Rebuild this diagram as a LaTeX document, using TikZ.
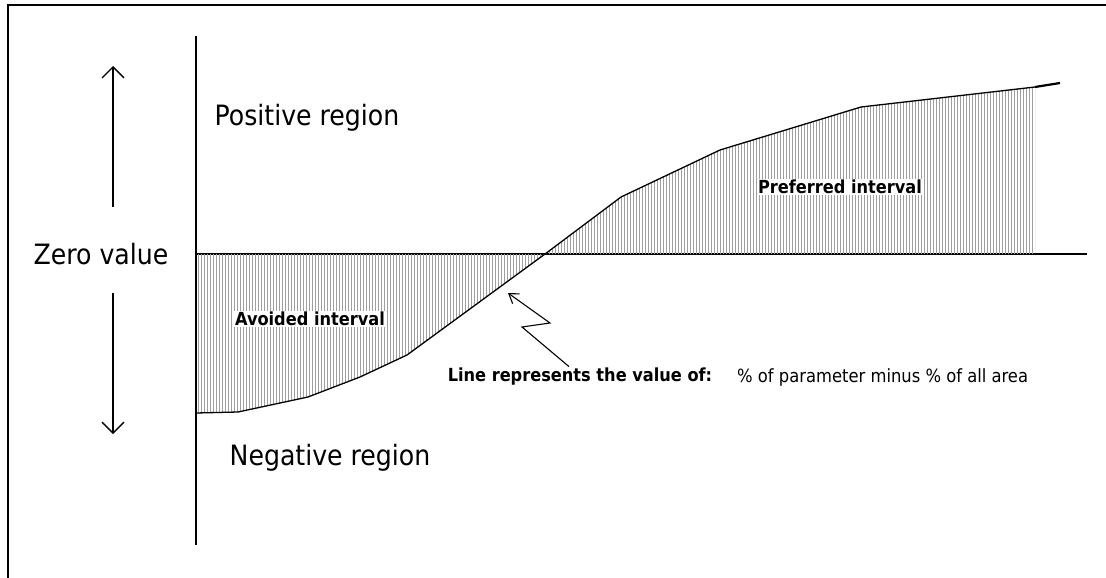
\documentclass[tikz,border=0pt]{standalone}
\usepackage{fontspec}
\setmainfont{DejaVu Sans Condensed}
\usetikzlibrary{arrows.meta,patterns}

\begin{document}
\begin{tikzpicture}[x=1pt,y=-1pt,>={Straight Barb[length=11pt,width=22pt]},
    region/.style={font=\fontsize{28}{30}\selectfont,inner sep=1pt},
    interval/.style={font=\bfseries\fontsize{18}{20}\selectfont,fill=white,inner sep=1.5pt},
    hatch/.style={pattern=vertical lines,pattern color=gray!75},
    curve/.style={line width=1.3pt}]
    \useasboundingbox (0,0) rectangle (1106,578);
    % frame
    \draw[line width=2.4pt] (1106,5) -- (8,5) -- (8,578);
    % axes
    \coordinate (o) at (196,254);
    \draw[curve] (196,36) -- (196,545);
    \draw[curve] (o) -- (1087,254);
    % hatched areas
    \fill[hatch] (o) -- (196,413) -- (238,412) -- (308,397) -- (360,377) -- (407,355) -- (545,254) -- cycle;
    \fill[hatch] (545,254) -- (621,197) -- (720,150) -- (861,107) -- (1035,87) -- (1035,254) -- cycle;
    \draw[curve] (196,413) -- (238,412) -- (308,397) -- (360,377) -- (407,355) -- (545,254)
      -- (621,197) -- (720,150) -- (861,107) -- (1035,87);
    \draw[line width=2.2pt] (1035,87) -- (1060,83);
    % labels
    \node[region] (pos) at (307,118) {Positive region};
    \node[region] (zero) at (101,254) {Zero value};
    \node[region] (neg) at (330,458) {Negative region};
    \node[interval] (avoid) at (310,319) {Avoided interval};
    \node[interval] (pref) at (840,187) {Preferred interval};
    \node[interval] (lineval) at (580,377) {Line represents the value of:};
    \node[font=\fontsize{18.2}{20}\selectfont,anchor=west,inner sep=0pt] (pct) at (737,377) {\% of parameter minus \% of all area};
    % direction arrows
    \coordinate (upfoot) at (113,207);
    \coordinate (uphead) at (113,66);
    \coordinate (dnfoot) at (113,293);
    \coordinate (dnhead) at (113,434);
    \draw[->,line width=1.4pt] (upfoot) -- (uphead);
    \draw[->,line width=1.4pt] (dnfoot) -- (dnhead);
    % zigzag pointer to the curve
    \coordinate (hit) at (508,293);
    \draw[line width=1.1pt,-{Straight Barb[length=9pt,width=12pt]}] ([xshift=-11pt]lineval.north) -- (522,327) -- (550,323) -- (hit);
  \end{tikzpicture}
\end{document}
